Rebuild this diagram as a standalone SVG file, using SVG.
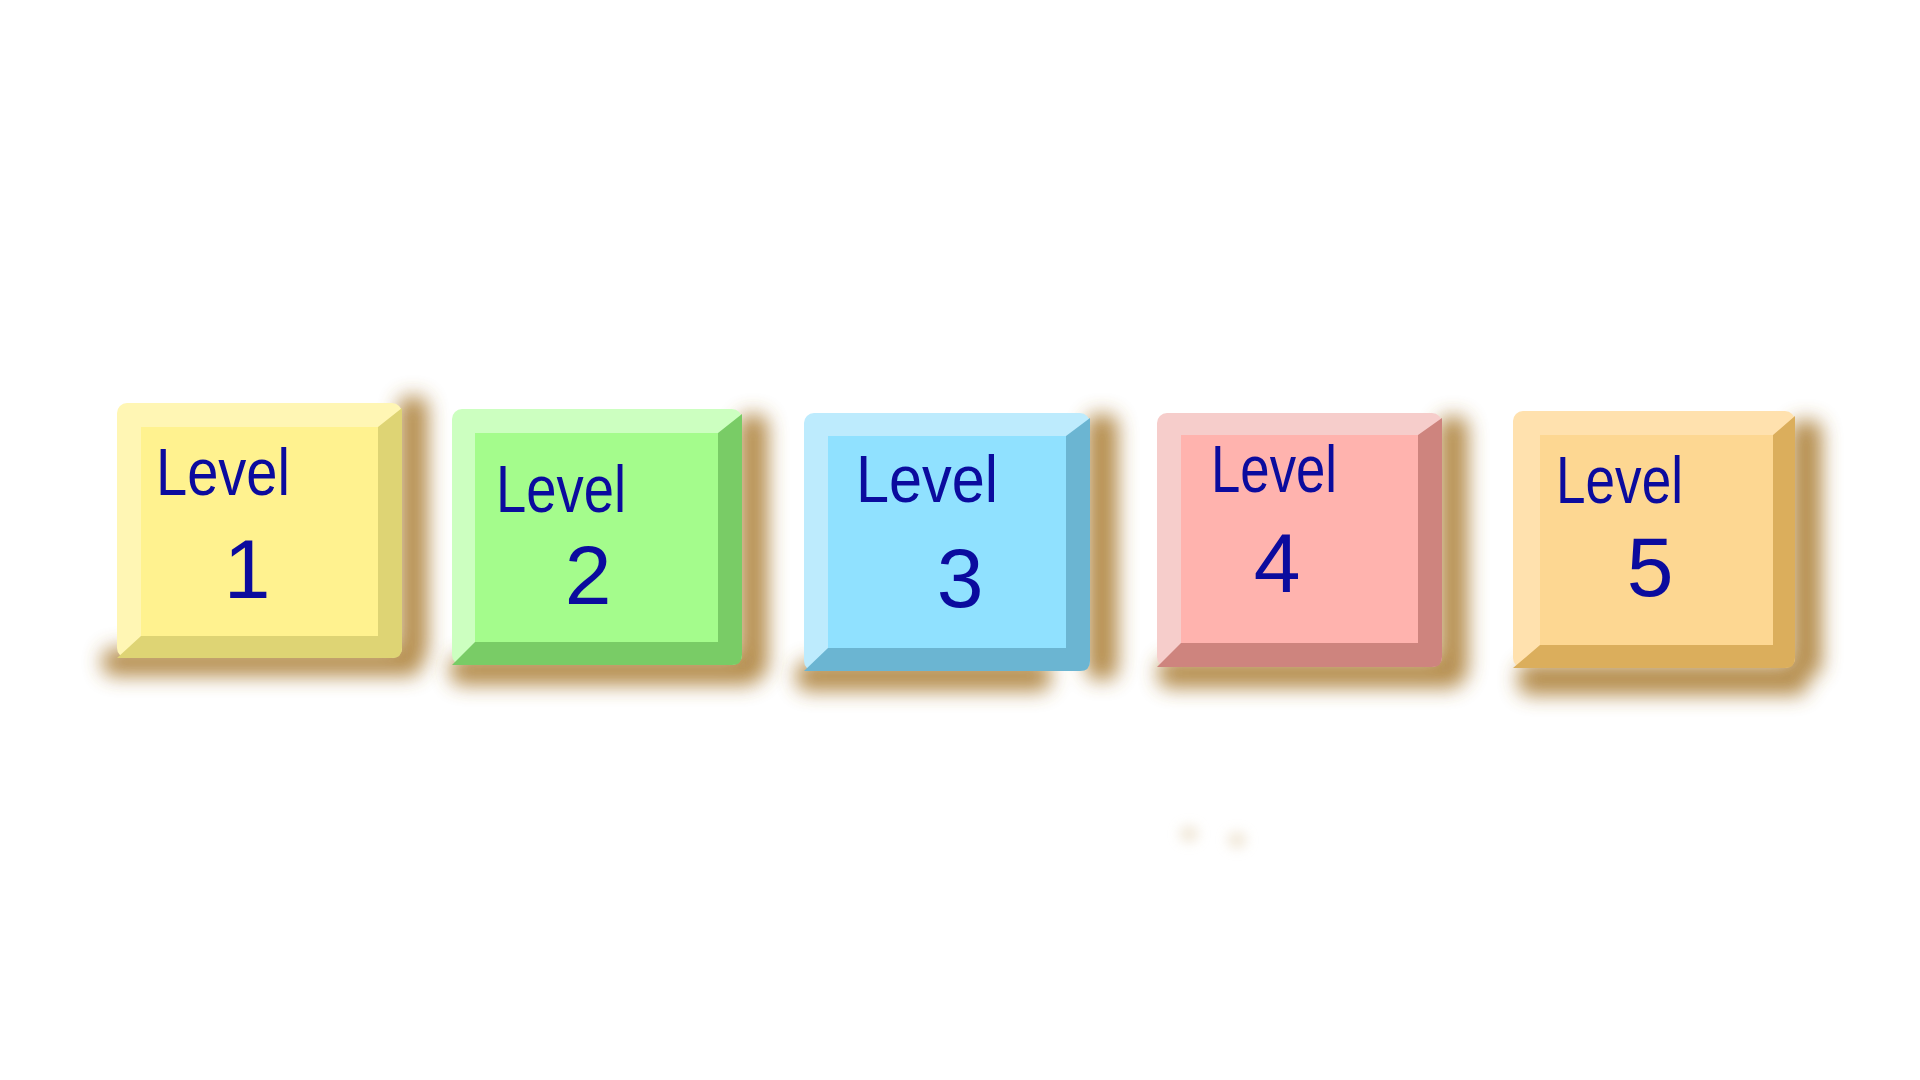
<svg xmlns="http://www.w3.org/2000/svg" width="1920" height="1080" viewBox="0 0 1920 1080">
  <defs>
    <filter id="blur" x="-50%" y="-50%" width="200%" height="200%">
      <feGaussianBlur stdDeviation="10"/>
    </filter>
    <filter id="blur2" x="-100%" y="-100%" width="300%" height="300%">
      <feGaussianBlur stdDeviation="6"/>
    </filter>
    <style>
      .shadow { fill: #A8792E; opacity: 0.85; filter: url(#blur); }
      .lvl { font-family: "Liberation Sans", "Noto Sans", sans-serif; fill: #0B0B9E; font-size: 66px; }
      .num { font-family: "Liberation Sans", "Noto Sans", sans-serif; fill: #0B0B9E; font-size: 84px; text-anchor: middle; }
    </style>
  </defs>
  <rect width="1920" height="1080" fill="#FFFFFF"/>

  <g id="faint-marks" fill="#E9DCC4" filter="url(#blur2)" opacity="0.6">
    <ellipse cx="1189" cy="834" rx="10" ry="9"/>
    <ellipse cx="1237" cy="840" rx="10" ry="9"/>
  </g>

  <g id="connectors"></g>

  <g id="level1">
    <g class="shadow">
      <rect x="398" y="396" width="30" height="266" rx="12"/>
      <rect x="102" y="648" width="320" height="28" rx="12"/>
    </g>
    <rect x="117" y="403" width="285" height="255" rx="10" fill="#FFF6B4"/>
    <path d="M402 408 L402 648 Q402 658 392 658 L117 658 L141 636 L378 636 L378 427 Z" fill="#DED474"/>
    <rect x="141" y="427" width="237" height="209" fill="#FFF28F"/>
    <text class="lvl" x="156" y="495" textLength="134" lengthAdjust="spacingAndGlyphs">Level</text>
    <text class="num" x="247" y="598">1</text>
  </g>

  <g id="level2">
    <g class="shadow">
      <rect x="738" y="414" width="30" height="264" rx="12"/>
      <rect x="450" y="655" width="310" height="30" rx="12"/>
    </g>
    <rect x="452" y="409" width="290" height="256" rx="10" fill="#CCFFC0"/>
    <path d="M742 414 L742 655 Q742 665 732 665 L452 665 L475 642 L718 642 L718 433 Z" fill="#79CC66"/>
    <rect x="475" y="433" width="243" height="209" fill="#A4FC8C"/>
    <text class="lvl" x="496" y="512" textLength="130" lengthAdjust="spacingAndGlyphs">Level</text>
    <text class="num" x="588" y="604">2</text>
  </g>

  <g id="level3">
    <g class="shadow">
      <rect x="1086" y="414" width="32" height="266" rx="12"/>
      <rect x="796" y="661" width="255" height="30" rx="12"/>
    </g>
    <rect x="804" y="413" width="286" height="258" rx="10" fill="#BDEBFD"/>
    <path d="M1090 418 L1090 661 Q1090 671 1080 671 L804 671 L828 648 L1066 648 L1066 436 Z" fill="#6BB5D2"/>
    <rect x="828" y="436" width="238" height="212" fill="#90E1FF"/>
    <text class="lvl" x="856" y="502" textLength="142" lengthAdjust="spacingAndGlyphs">Level</text>
    <text class="num" x="960" y="607">3</text>
  </g>

  <g id="level4">
    <g class="shadow">
      <rect x="1438" y="416" width="30" height="266" rx="12"/>
      <rect x="1158" y="658" width="305" height="30" rx="12"/>
    </g>
    <rect x="1157" y="413" width="285" height="254" rx="10" fill="#F6CDCB"/>
    <path d="M1442 418 L1442 657 Q1442 667 1432 667 L1157 667 L1181 643 L1418 643 L1418 435 Z" fill="#CE847E"/>
    <rect x="1181" y="435" width="237" height="208" fill="#FFB3AE"/>
    <text class="lvl" x="1211" y="492" textLength="126" lengthAdjust="spacingAndGlyphs">Level</text>
    <text class="num" x="1277" y="592">4</text>
  </g>

  <g id="level5">
    <g class="shadow">
      <rect x="1790" y="420" width="32" height="256" rx="12"/>
      <rect x="1518" y="663" width="290" height="32" rx="12"/>
    </g>
    <rect x="1513" y="411" width="282" height="257" rx="10" fill="#FFE1AE"/>
    <path d="M1795 416 L1795 658 Q1795 668 1785 668 L1513 668 L1540 645 L1773 645 L1773 435 Z" fill="#DBAE5C"/>
    <rect x="1540" y="435" width="233" height="210" fill="#FDD792"/>
    <text class="lvl" x="1556" y="503" textLength="127" lengthAdjust="spacingAndGlyphs">Level</text>
    <text class="num" x="1650" y="596">5</text>
  </g>
</svg>
